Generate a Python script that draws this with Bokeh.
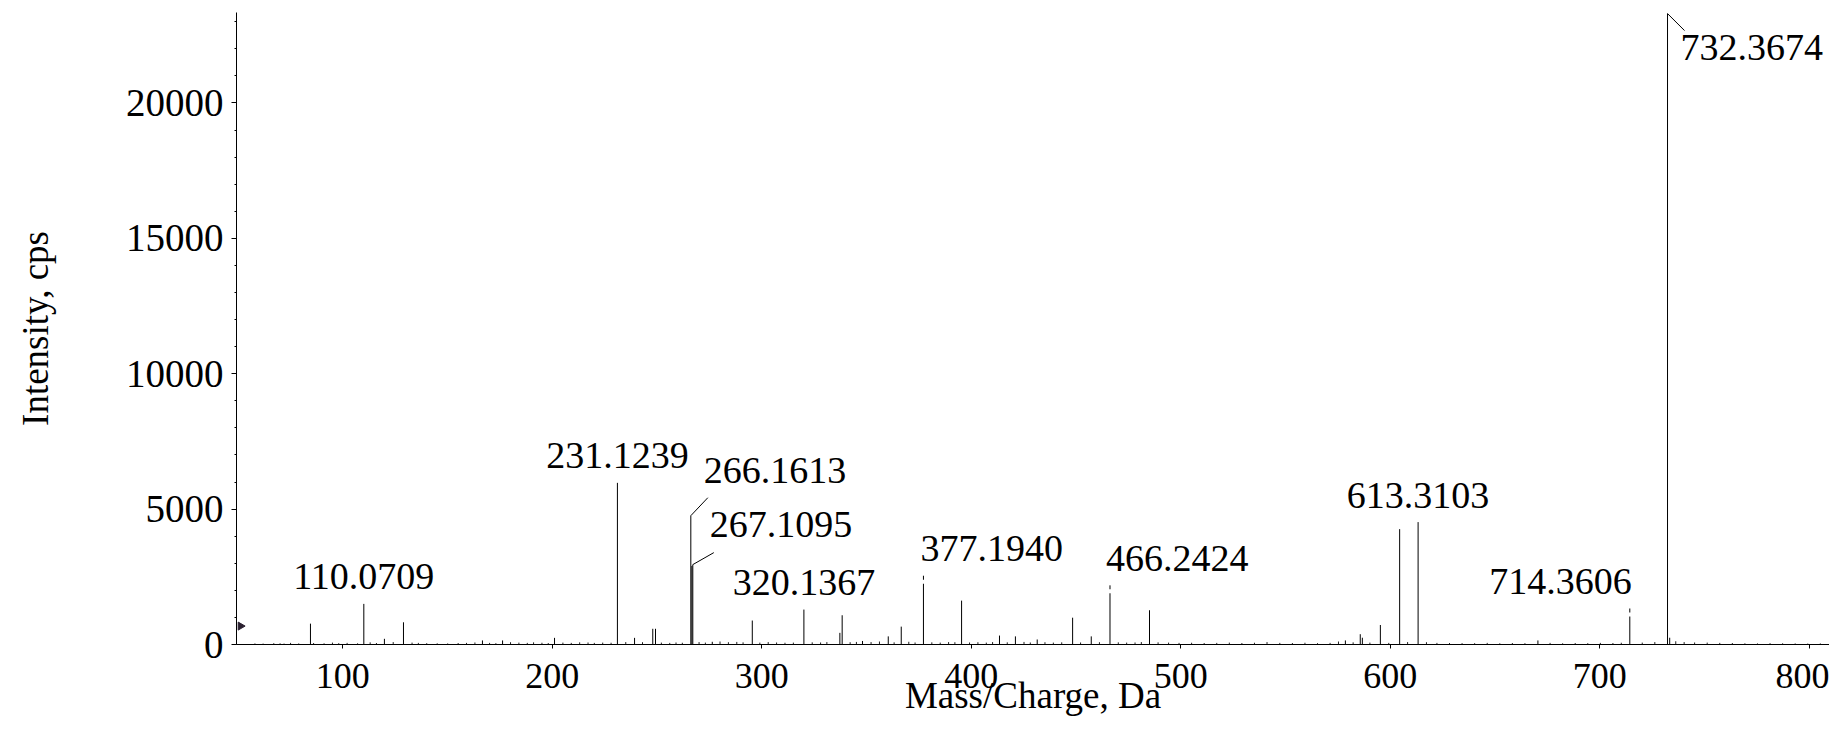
from bokeh.plotting import figure
from bokeh.models import ColumnDataSource, FixedTicker, Range1d
from bokeh.core.properties import value
from bokeh.embed import file_html
from bokeh.resources import INLINE

# ---------------- data ----------------
peak_mz = [84.6, 110.0709, 119.9, 129.0, 166.7, 176.3, 201.1, 231.1239, 239.3, 248.0,
           249.3, 266.1613, 266.66, 267.1095, 276.4, 295.5, 320.1367, 337.3, 338.4, 348.1,
           360.4, 366.6, 377.1940, 395.4, 413.5, 421.1, 431.5, 448.4, 457.3, 466.2424,
           485.1, 578.6, 585.7, 586.7, 595.3, 604.5, 613.3103, 670.5, 714.3606, 732.3674,
           733.4]
peak_intensity = [770, 1500, 210, 820, 150, 150, 245, 5970, 245, 580,
                  580, 4757, 2900, 2950, 100, 885, 1290, 430, 1080, 130,
                  300, 660, 2540, 1620, 330, 300, 185, 990, 300, 2185,
                  1265, 150, 380, 250, 720, 4260, 4520, 150, 1330, 23300,
                  250]

noise_mz = [58.1, 62.0, 67.1, 70.1, 72.0, 75.1, 79.0, 86.1, 91.1, 95.1,
            98.1, 102.1, 107.1, 113.1, 116.1, 124.1, 133.1, 136.1, 140.1, 145.1,
            150.1, 155.1, 159.1, 163.1, 170.1, 173.1, 180.1, 184.1, 188.1, 191.1,
            195.1, 198.1, 205.1, 209.1, 213.1, 217.1, 220.1, 224.1, 228.1, 235.1,
            243.1, 252.1, 256.1, 259.1, 262.1, 270.1, 273.1, 280.1, 284.1, 288.1,
            291.1, 299.1, 303.1, 307.1, 311.1, 315.1, 324.1, 328.1, 331.1, 342.2,
            345.2, 352.2, 356.2, 363.2, 370.2, 373.2, 381.2, 385.2, 389.2, 392.2,
            399.2, 403.2, 407.2, 410.2, 417.2, 425.2, 428.2, 435.2, 439.2, 443.2,
            452.2, 461.2, 470.2, 474.2, 478.2, 481.2, 489.2, 494.2, 499.2, 505.2,
            511.2, 517.2, 523.2, 529.2, 535.2, 541.2, 547.3, 553.3, 559.3, 565.3,
            571.3, 575.3, 582.3, 590.3, 599.3, 608.3, 617.3, 622.3, 628.3, 634.3,
            640.3, 646.3, 652.3, 658.3, 664.3, 676.3, 682.3, 688.3, 694.3, 700.3,
            706.3, 710.3, 720.3, 726.3, 736.3, 740.3, 745.3, 751.3, 757.3, 763.3,
            769.3, 775.3, 781.3, 787.3, 793.3, 799.3, 805.3]
noise_intensity = [40, 35, 50, 45, 35, 60, 40, 55, 45, 70,
                   50, 60, 45, 80, 55, 90, 70, 60, 50, 45,
                   40, 55, 60, 75, 60, 50, 85, 70, 60, 80,
                   65, 55, 70, 60, 80, 75, 60, 70, 65, 90,
                   85, 70, 60, 75, 65, 90, 70, 110, 85, 95,
                   80, 70, 90, 75, 65, 70, 80, 75, 90, 85,
                   95, 90, 110, 80, 100, 75, 80, 70, 90, 85,
                   75, 85, 70, 90, 80, 95, 75, 85, 70, 80,
                   75, 85, 80, 70, 75, 90, 80, 70, 60, 65,
                   55, 60, 70, 55, 65, 90, 60, 55, 65, 50,
                   60, 110, 80, 70, 60, 90, 85, 60, 55, 50,
                   50, 60, 45, 55, 50, 60, 45, 55, 50, 60,
                   55, 65, 70, 90, 120, 90, 75, 70, 60, 55,
                   45, 40, 50, 45, 40, 35, 40]

label_mz = [110.0709, 231.1239, 266.1613, 267.1095, 320.1367,
            377.1940, 466.2424, 613.3103, 714.3606, 732.3674]
precursor_marker_intensity = [680]

x_ticks = [100, 200, 300, 400, 500, 600, 700, 800]
y_ticks = [0, 5000, 10000, 15000, 20000]

# ---------------- layout / style ----------------
W, H = 1829, 718
LEFT, TOP, BOTTOM = 236, 12, 73
FRAME_W, FRAME_H = W - LEFT, H - TOP - BOTTOM
X0 = 49.3
X1 = X0 + FRAME_W / 2.095
Y0, Y1 = 0, 23340
PX_MZ = FRAME_W / (X1 - X0)
PX_CPS = FRAME_H / (Y1 - Y0)
FONT = "Liberation Serif"

# label placement styles: (align, dx px, dy px, leader dx px, leader dy px)
label_style = {
    110.0709: ("center", 0, -27, None, None),
    231.1239: ("center", 0, -27, None, None),
    266.1613: ("left", 13, -45, 17, -18),
    267.1095: ("left", 17, -40, 21, -12),
    320.1367: ("center", 0, -27, None, None),
    377.1940: ("left", -3, -27, None, None),
    466.2424: ("left", -4, -27, None, None),
    613.3103: ("center", 0, -27, None, None),
    714.3606: ("right", 2, -27, None, None),
    732.3674: ("left", 13, 34, 17, 17),
}
gap_mz = [377.1940, 466.2424, 714.3606]

p = figure(width=W, height=H, output_backend="svg", toolbar_location=None,
           x_range=Range1d(X0, X1), y_range=Range1d(Y0, Y1),
           min_border_left=LEFT, min_border_top=TOP, min_border_bottom=BOTTOM,
           min_border_right=0)
p.outline_line_color = None
p.xgrid.visible = False
p.ygrid.visible = False
p.background_fill_color = "white"
p.border_fill_color = "white"

# noise + peaks as sticks
p.segment(x0=noise_mz, y0=[0] * len(noise_mz), x1=noise_mz, y1=noise_intensity,
          line_color="#222222", line_width=1)
p.segment(x0=peak_mz, y0=[0] * len(peak_mz), x1=peak_mz, y1=peak_intensity,
          line_color="black", line_width=1)

lookup = dict(zip(peak_mz, peak_intensity))

# small white gaps near the tops of some labelled peaks
gy0 = [lookup[m] - 4 / PX_CPS for m in gap_mz]
gy1 = [lookup[m] - 8 / PX_CPS for m in gap_mz]
p.segment(x0=gap_mz, y0=gy0, x1=gap_mz, y1=gy1, line_color="white", line_width=3)

# leader lines
lx0, ly0, lx1, ly1 = [], [], [], []
for m in label_mz:
    st = label_style[m]
    if st[3] is not None:
        lx0.append(m)
        ly0.append(lookup[m])
        lx1.append(m + st[3] / PX_MZ)
        ly1.append(lookup[m] - st[4] / PX_CPS)
p.segment(x0=lx0, y0=ly0, x1=lx1, y1=ly1, line_color="black", line_width=1)

# peak labels
src = ColumnDataSource(dict(
    x=label_mz,
    y=[lookup[m] for m in label_mz],
    text=["%.4f" % m for m in label_mz],
    align=[label_style[m][0] for m in label_mz],
    dx=[label_style[m][1] for m in label_mz],
    dy=[label_style[m][2] for m in label_mz],
))
p.text(x="x", y="y", text="text", source=src, text_align="align",
       text_baseline="alphabetic", x_offset="dx", y_offset="dy",
       text_font=value(FONT), text_font_size="38px", text_color="black")

# precursor arrow marker next to the y axis
p.scatter(x=[X0 + 4 / PX_MZ], y=precursor_marker_intensity, marker="triangle",
          angle=-1.5708, size=8, fill_color="#2a2030", line_color="#2a2030")

# axes
xa = p.xaxis[0]
xa.ticker = FixedTicker(ticks=x_ticks, minor_ticks=[])
xa.axis_line_color = "black"
xa.axis_line_width = 1
xa.major_tick_out = 4
xa.major_tick_in = 0
xa.minor_tick_out = 0
xa.minor_tick_in = 0
xa.major_tick_line_color = "black"
xa.major_label_standoff = 15
xa.major_label_text_font = FONT
xa.major_label_text_font_size = "36px"
xa.major_label_text_color = "black"
xa.axis_label = "Mass/Charge, Da"
xa.axis_label_text_font = FONT
xa.axis_label_text_font_size = "37px"
xa.axis_label_text_font_style = "normal"
xa.axis_label_text_color = "black"
xa.axis_label_standoff = -16

ya = p.yaxis[0]
ya.ticker = FixedTicker(ticks=y_ticks, minor_ticks=list(range(0, 23001, 1000)))
ya.axis_line_color = "black"
ya.axis_line_width = 1
ya.major_tick_out = 5
ya.major_tick_in = 0
ya.minor_tick_out = 2
ya.minor_tick_in = 0
ya.major_tick_line_color = "black"
ya.minor_tick_line_color = "black"
ya.major_label_standoff = 8
ya.major_label_text_font = FONT
ya.major_label_text_font_size = "39px"
ya.major_label_text_color = "black"
ya.axis_label = "Intensity, cps"
ya.axis_label_text_font = FONT
ya.axis_label_text_font_size = "37px"
ya.axis_label_text_font_style = "normal"
ya.axis_label_text_color = "black"
ya.axis_label_standoff = 67

open("out.html", "w").write(file_html(p, INLINE))
